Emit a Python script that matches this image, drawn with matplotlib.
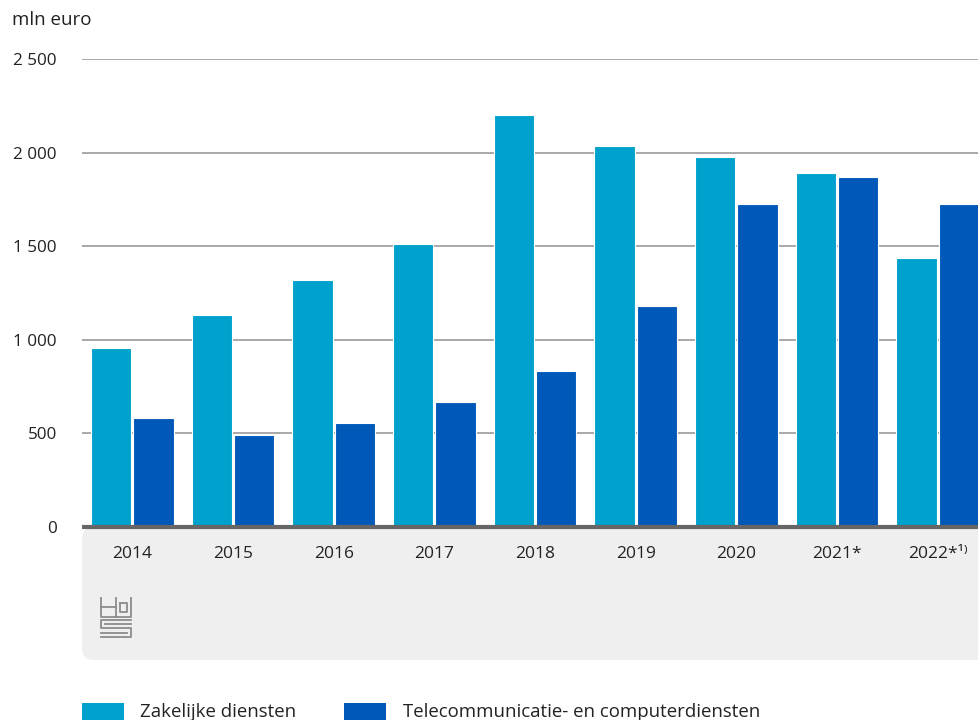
import matplotlib
matplotlib.use("Agg")
import matplotlib.pyplot as plt
import numpy as np
from matplotlib.patches import FancyBboxPatch
from matplotlib.lines import Line2D
from matplotlib.transforms import IdentityTransform

years = ["2014", "2015", "2016", "2017", "2018", "2019", "2020", "2021*", "2022*\u00b9\u207e"]
zakelijk = [955, 1130, 1320, 1512, 2200, 2034, 1979, 1889, 1438]
telecom = [581, 492, 554, 670, 836, 1178, 1727, 1872, 1727]
series_names = ["Zakelijke diensten", "Telecommunicatie- en computerdiensten"]
yticks = [0, 500, 1000, 1500, 2000, 2500]

light = "#00a1cd"
dark = "#0058b8"

plt.rcParams['font.family'] = ['Open Sans', 'DejaVu Sans']

W, H = 979, 720
fig = plt.figure(figsize=(W / 100, H / 100), dpi=100)

# grey panel behind the x labels
panel = FancyBboxPatch((82, 60), 960, 133, boxstyle="round,pad=0,rounding_size=12",
                       transform=IdentityTransform(), facecolor="#efefef", edgecolor="none", zorder=-5)
fig.patches.append(panel)

ax = fig.add_axes([82 / W, (H - 527) / H, 906 / W, 468 / H])
ax.set_facecolor("none")
ax.set_zorder(2)

x = np.arange(len(years))
w = 0.4
ax.bar(x - 0.21, zakelijk, w, color=light, edgecolor="white", linewidth=0.8, zorder=2, label=series_names[0])
ax.bar(x + 0.21, telecom, w, color=dark, edgecolor="white", linewidth=0.8, zorder=2, label=series_names[1])

ax.set_xlim(-0.5, len(years) - 0.5)
ax.set_ylim(0, 2500)
ax.set_yticks(yticks)
ax.set_yticklabels([f"{v:,}".replace(",", " ") for v in yticks], fontsize=12.3, color="#222222")
ax.tick_params(axis="y", length=0, pad=18)
ax.set_xticks(x)
ax.set_xticklabels(years, fontsize=12.5, color="#222222")
ax.tick_params(axis="x", length=0, pad=14)
ax.yaxis.grid(True, color="#9a9a9a", linewidth=1.2, zorder=1)
ax.set_axisbelow(True)
for s in ax.spines.values():
    s.set_visible(False)
ax.axhline(0, color="#666666", linewidth=3, zorder=3, clip_on=False, solid_capstyle="butt")

fig.text(12 / W, 1 - 20 / H, "mln euro", fontsize=13.5, color="#222222", va="center", ha="left")

# simple cbs logo
logo_col = "#8c8c8c"
segs = [
    [(101, 598), (101, 617), (131, 617), (131, 598)],
    [(116, 598), (116, 617)],
    [(101, 607), (116, 607)],
    [(120, 603), (127, 603), (127, 612), (120, 612), (120, 603)],
    [(131, 620), (101, 620), (101, 628), (131, 628), (131, 637), (101, 637)],
    [(105, 624), (131, 624)],
    [(101, 633), (127, 633)],
]
for seg in segs:
    xs = [p[0] for p in seg]
    ys = [H - p[1] for p in seg]
    fig.add_artist(Line2D(xs, ys, transform=IdentityTransform(), color=logo_col, linewidth=1.3))

# legend
fig.patches.append(FancyBboxPatch((82, 0), 42, 17, boxstyle="square,pad=0", transform=IdentityTransform(),
                                  facecolor=light, edgecolor="none"))
fig.patches.append(FancyBboxPatch((344, 0), 42, 17, boxstyle="square,pad=0", transform=IdentityTransform(),
                                  facecolor=dark, edgecolor="none"))
fig.text(140 / W, 8 / H, series_names[0], fontsize=13.4, color="#222222", va="center", ha="left")
fig.text(403 / W, 8 / H, series_names[1], fontsize=13.4, color="#222222", va="center", ha="left")

fig.savefig("out.png", dpi=100)
